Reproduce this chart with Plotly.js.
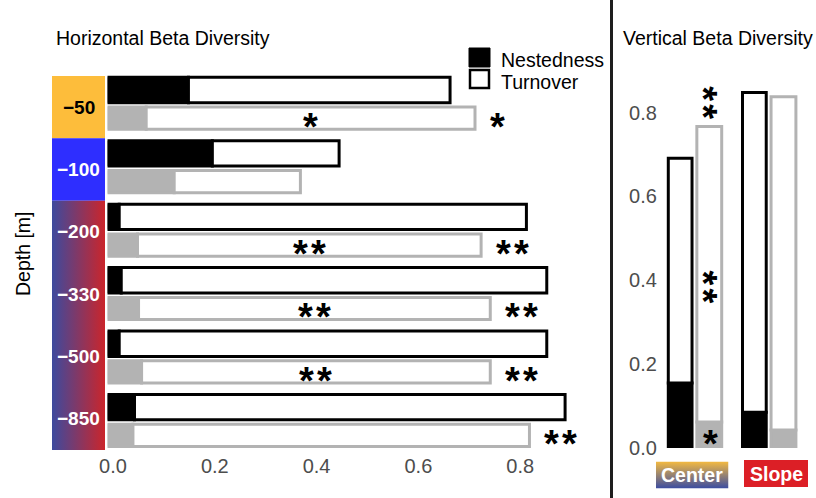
<!DOCTYPE html>
<html><head><meta charset="utf-8">
<script src="https://cdn.plot.ly/plotly-3.0.1.min.js"></script>
<style>html,body{margin:0;padding:0;background:#fff;} #chart{width:816px;height:498px;}</style>
</head><body><div id="chart"></div>
<script>
// ---- data ----
const depths = ['−50','−100','−200','−330','−500','−850'];
const hNestBlack = [0.159, 0.206, 0.023, 0.027, 0.023, 0.053];
const hTurnBlack = [0.514, 0.249, 0.800, 0.836, 0.840, 0.846];
const hNestGray  = [0.076, 0.131, 0.059, 0.061, 0.067, 0.050];
const hTurnGray  = [0.646, 0.248, 0.675, 0.691, 0.685, 0.779];
const hSigInside  = ['*', '', '**', '**', '**', ''];
const hSigOutside = ['*', '', '**', '**', '**', '**'];

const regions = ['Center','Slope'];
const vNestBlack = [0.155, 0.085];
const vTurnBlack = [0.536, 0.763];
const vNestGray  = [0.062, 0.043];
const vTurnGray  = [0.705, 0.795];
const vSigTop    = ['**', ''];
const vSigMid    = ['**', ''];
const vSigNest   = ['*', ''];

const hTicks = [0, 0.2, 0.4, 0.6, 0.8];
const vTicks = [0, 0.2, 0.4, 0.6, 0.8];

// ---- layout helpers ----
const W = 816, H = 498;
const px = x => x / W;
const py = y => 1 - y / H;
const GRAY = '#b3b3b3';
const FONT = 'Liberation Sans, Arial, sans-serif';
const LW = 3;

const traces = [];
// left panel: horizontal bars
traces.push({type:'bar', orientation:'h', y:depths, x:hNestBlack, base:0,
  offset:-0.41, width:0.40, marker:{color:'#000', line:{color:'#000', width:LW}},
  xaxis:'x', yaxis:'y', hoverinfo:'skip', showlegend:false});
traces.push({type:'bar', orientation:'h', y:depths, x:hTurnBlack, base:hNestBlack,
  offset:-0.41, width:0.40, marker:{color:'#fff', line:{color:'#000', width:LW}},
  xaxis:'x', yaxis:'y', hoverinfo:'skip', showlegend:false});
traces.push({type:'bar', orientation:'h', y:depths, x:hNestGray, base:0,
  offset:0.06, width:0.35, marker:{color:GRAY, line:{color:GRAY, width:LW}},
  xaxis:'x', yaxis:'y', hoverinfo:'skip', showlegend:false});
traces.push({type:'bar', orientation:'h', y:depths, x:hTurnGray, base:hNestGray,
  offset:0.06, width:0.35, marker:{color:'#fff', line:{color:GRAY, width:LW}},
  xaxis:'x', yaxis:'y', hoverinfo:'skip', showlegend:false});
// invisible trace carrying the tick-label axis of the left panel
traces.push({type:'scatter', mode:'markers', x:[hTicks[0]], y:[0], marker:{opacity:0, size:1},
  xaxis:'x5', yaxis:'y5', hoverinfo:'skip', showlegend:false});
// right panel: vertical bars
traces.push({type:'bar', x:regions, y:vNestBlack, base:0,
  offset:-0.36, width:0.32, marker:{color:'#000', line:{color:'#000', width:LW}},
  xaxis:'x2', yaxis:'y2', hoverinfo:'skip', showlegend:false});
traces.push({type:'bar', x:regions, y:vTurnBlack, base:vNestBlack,
  offset:-0.36, width:0.32, marker:{color:'#fff', line:{color:'#000', width:LW}},
  xaxis:'x2', yaxis:'y2', hoverinfo:'skip', showlegend:false});
traces.push({type:'bar', x:regions, y:vNestGray, base:0,
  offset:0.025, width:0.335, marker:{color:GRAY, line:{color:GRAY, width:LW}},
  xaxis:'x2', yaxis:'y2', hoverinfo:'skip', showlegend:false});
traces.push({type:'bar', x:regions, y:vTurnGray, base:vNestGray,
  offset:0.025, width:0.335, marker:{color:'#fff', line:{color:GRAY, width:LW}},
  xaxis:'x2', yaxis:'y2', hoverinfo:'skip', showlegend:false});
// gradient label box for deep rows
traces.push({type:'scatter', mode:'lines', x:[0,1,1,0,0], y:[2,2,6,6,2], fill:'toself',
  fillgradient:{type:'horizontal', start:0, stop:1, colorscale:[[0,'#3d4a9e'],[1,'#cb252b']]},
  line:{width:0, color:'rgba(0,0,0,0)'}, xaxis:'x3', yaxis:'y3', hoverinfo:'skip', showlegend:false});
// gradient label box for Center
traces.push({type:'scatter', mode:'lines', x:[0,1,1,0,0], y:[0,0,1,1,0], fill:'toself',
  fillgradient:{type:'vertical', start:0, stop:1, colorscale:[[0,'#3a4ca2'],[1,'#f4ba40']]},
  line:{width:0, color:'rgba(0,0,0,0)'}, xaxis:'x4', yaxis:'y4', hoverinfo:'skip', showlegend:false});

const annotations = [];
const shapes = [];

// titles
annotations.push({text:'Horizontal Beta Diversity', xref:'paper', yref:'paper', x:px(54), y:py(38),
  xanchor:'left', yanchor:'middle', showarrow:false, font:{family:FONT, size:19.5, color:'#000'}});
annotations.push({text:'Vertical Beta Diversity', xref:'paper', yref:'paper', x:px(621), y:py(38),
  xanchor:'left', yanchor:'middle', showarrow:false, font:{family:FONT, size:19.5, color:'#000'}});
annotations.push({text:'Depth [m]', xref:'paper', yref:'paper', x:px(23), y:py(254), textangle:-90,
  xanchor:'center', yanchor:'middle', showarrow:false, font:{family:FONT, size:19.5, color:'#000'}});

// depth label boxes
shapes.push({type:'rect', xref:'x3', yref:'y3', x0:0, x1:1, y0:0, y1:1, fillcolor:'#fdbd3b', line:{width:0}, layer:'below'});
shapes.push({type:'rect', xref:'x3', yref:'y3', x0:0, x1:1, y0:1, y1:2, fillcolor:'#2e2eff', line:{width:0}, layer:'below'});
depths.forEach((d, i) => {
  annotations.push({text:'<b>' + d + '</b>', xref:'x3', yref:'y3', x:0.5, y:i + 0.5,
    xanchor:'center', yanchor:'middle', showarrow:false,
    font:{family:FONT, size:19, color: i === 0 ? '#000' : '#fff'}});
});

// legend (manual)
shapes.push({type:'rect', xref:'paper', yref:'paper', x0:px(469), x1:px(490), y0:py(67), y1:py(48),
  fillcolor:'#000', line:{color:'#000', width:1}});
shapes.push({type:'rect', xref:'paper', yref:'paper', x0:px(470), x1:px(489), y0:py(88), y1:py(70),
  fillcolor:'#fff', line:{color:'#000', width:2.5}});
annotations.push({text:'Nestedness', xref:'paper', yref:'paper', x:px(499), y:py(60),
  xanchor:'left', yanchor:'middle', showarrow:false, font:{family:FONT, size:19.5, color:'#000'}});
annotations.push({text:'Turnover', xref:'paper', yref:'paper', x:px(499), y:py(82),
  xanchor:'left', yanchor:'middle', showarrow:false, font:{family:FONT, size:19.5, color:'#000'}});

// separator
shapes.push({type:'line', xref:'paper', yref:'paper', x0:px(611.5), x1:px(611.5), y0:0, y1:1,
  line:{color:'#1e1e1e', width:3}});

// Center / Slope labels
annotations.push({text:'<b>Center</b>', xref:'x4', yref:'y4', x:0.5, y:0.5, xanchor:'center', yanchor:'middle',
  showarrow:false, font:{family:FONT, size:19.5, color:'#fff'}});
shapes.push({type:'rect', xref:'paper', yref:'paper', x0:px(744), x1:px(808), y0:py(487), y1:py(460),
  fillcolor:'#dc1f26', line:{width:0}});
annotations.push({text:'<b>Slope</b>', xref:'paper', yref:'paper', x:px(776), y:py(473.5), xanchor:'center', yanchor:'middle',
  showarrow:false, font:{family:FONT, size:19.5, color:'#fff'}});

// significance stars
const STAR = 38;
const SHIFT = -0.225 * STAR;
function star(t) { return '<b>' + t.split('').join('\u200A') + '</b>'; }
depths.forEach((d, i) => {
  const tot = hNestGray[i] + hTurnGray[i];
  if (hSigInside[i]) annotations.push({text:star(hSigInside[i]), xref:'x', yref:'y',
    x:hNestGray[i] + hTurnGray[i] / 2, y:i + 0.235, xanchor:'center', yanchor:'middle', yshift:SHIFT,
    showarrow:false, borderpad:0, font:{family:FONT, size:STAR, color:'#000'}});
  if (hSigOutside[i]) annotations.push({text:star(hSigOutside[i]), xref:'x', yref:'y',
    x:tot, y:i + 0.235, xanchor:'left', yanchor:'middle', xshift:14, yshift:SHIFT,
    showarrow:false, borderpad:0, font:{family:FONT, size:STAR, color:'#000'}});
});
regions.forEach((r, i) => {
  const xc = i + 0.025 + 0.335 / 2;
  const tot = vNestGray[i] + vTurnGray[i];
  if (vSigTop[i]) annotations.push({text:star(vSigTop[i]), xref:'x2', yref:'y2', x:xc, y:tot, textangle:90,
    xanchor:'center', yanchor:'bottom', yshift:6, xshift:SHIFT + 2, showarrow:false, borderpad:0,
    font:{family:FONT, size:STAR, color:'#000'}});
  if (vSigMid[i]) annotations.push({text:star(vSigMid[i]), xref:'x2', yref:'y2', x:xc, y:tot / 2, textangle:90,
    xanchor:'center', yanchor:'middle', xshift:SHIFT + 2, showarrow:false, borderpad:0,
    font:{family:FONT, size:STAR, color:'#000'}});
  if (vSigNest[i]) annotations.push({text:star(vSigNest[i]), xref:'x2', yref:'y2', x:xc, y:vNestGray[i] / 2,
    xanchor:'center', yanchor:'middle', yshift:SHIFT, xshift:1, showarrow:false, borderpad:0,
    font:{family:FONT, size:STAR, color:'#000'}});
});

const x0px = 107.5, scaleH = 509, labelShift = 5.5;
const xRight = 605;
const noAxis = {showgrid:false, zeroline:false, showline:false, ticks:'', fixedrange:true};
const layout = {
  width: W, height: H, margin:{l:0, r:0, t:0, b:0},
  paper_bgcolor:'#fff', plot_bgcolor:'rgba(0,0,0,0)',
  barmode:'overlay', showlegend:false,
  font:{family:FONT},
  xaxis:Object.assign({domain:[px(x0px), px(xRight)], range:[0, (xRight - x0px) / scaleH], anchor:'y',
    showticklabels:false}, noAxis),
  yaxis:Object.assign({domain:[py(452.2), py(71.6)], type:'category', categoryorder:'array', categoryarray:depths,
    range:[5.5, -0.5], anchor:'x', showticklabels:false}, noAxis),
  // tick-label axis for the left panel (labels sit slightly right of the bar origin, as in the source figure)
  xaxis5:Object.assign({domain:[px(x0px + labelShift), px(xRight + labelShift)], range:[0, (xRight - x0px) / scaleH],
    anchor:'y5', tickvals:hTicks, ticktext:hTicks.map(v => v.toFixed(1)),
    tickfont:{family:FONT, size:20, color:'#4d4d4d'}}, noAxis),
  yaxis5:Object.assign({domain:[py(452.2), py(71.6)], range:[0, 1], anchor:'x5', visible:false}, noAxis),
  xaxis2:Object.assign({domain:[px(657.9), px(806.3)], type:'category', categoryorder:'array', categoryarray:regions,
    range:[-0.5, 1.5], anchor:'y2', showticklabels:false}, noAxis),
  yaxis2:Object.assign({domain:[py(448), py(60)], range:[0, (448 - 60) / 419.3], anchor:'x2',
    tickvals:vTicks, ticktext:vTicks.map(v => v.toFixed(1)),
    tickfont:{family:FONT, size:20, color:'#4d4d4d'}}, noAxis),
  xaxis3:{domain:[px(52), px(105)], range:[0, 1], anchor:'y3', visible:false, fixedrange:true},
  yaxis3:{domain:[py(450), py(76)], range:[6, 0], anchor:'x3', visible:false, fixedrange:true},
  xaxis4:{domain:[px(656), px(728.5)], range:[0, 1], anchor:'y4', visible:false, fixedrange:true},
  yaxis4:{domain:[py(488.5), py(461.5)], range:[0, 1], anchor:'x4', visible:false, fixedrange:true},
  shapes: shapes,
  annotations: annotations
};

Plotly.newPlot('chart', traces, layout, {displayModeBar:false, staticPlot:true});
</script>
</body></html>
